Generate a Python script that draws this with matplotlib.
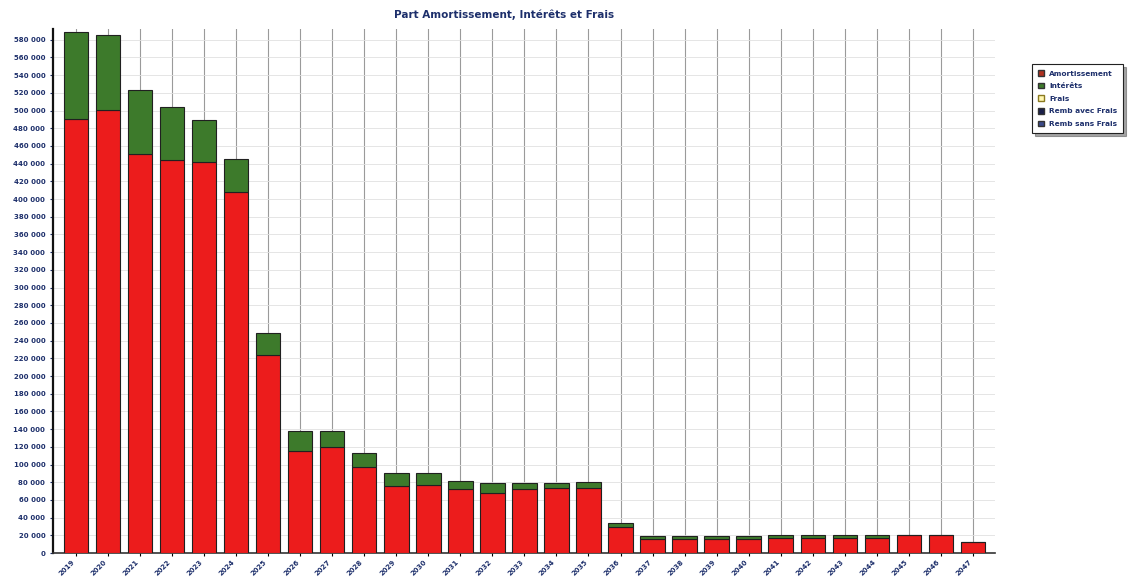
import matplotlib
matplotlib.use("Agg")
import matplotlib.pyplot as plt
from matplotlib.patches import Patch
from matplotlib.ticker import FuncFormatter, MultipleLocator

years = [str(y) for y in range(2019, 2048)]
amortissement = [490700, 500900, 450600, 444300, 441700, 407400, 223900, 115700, 119500,
                 97600, 76100, 76900, 72000, 68200, 72000, 73200, 73200, 29100,
                 16000, 16000, 16000, 16200, 17500, 17500, 17500, 17500, 19800, 19800, 11900]
interets = [98300, 84700, 72100, 59600, 47100, 37700, 25200, 22600, 18800,
            15100, 14700, 13900, 9800, 10600, 6800, 5600, 7400, 5200,
            3600, 3600, 3600, 3000, 3200, 3200, 3200, 3200, 900, 900, 0]

legend_labels = ["Amortissement", "Intérêts", "Frais", "Remb avec Frais", "Remb sans Frais"]

RED = "#ec1c1c"
GREEN = "#3d7a2b"
TXT = "#1d2f6b"

fig = plt.figure(figsize=(11.4, 5.88), dpi=100)
ax = fig.add_axes([0.0465, 0.0595, 0.8265, 0.891])

x = list(range(len(years)))
ax.bar(x, amortissement, width=0.76, color=RED, edgecolor="#202020", linewidth=0.8, zorder=3)
ax.bar(x, interets, width=0.76, bottom=amortissement, color=GREEN, edgecolor="#202020",
       linewidth=0.8, zorder=3)

ax.set_xlim(-0.72, len(years) - 1 + 0.7)
ax.set_ylim(0, 592000)
ax.yaxis.set_major_locator(MultipleLocator(20000))
ax.yaxis.set_major_formatter(FuncFormatter(lambda v, p: f"{int(v):,}".replace(",", " ")))
ax.set_xticks(x)
ax.set_xticklabels(years, rotation=45, ha="right", fontsize=5, color=TXT)
ax.tick_params(axis="y", labelsize=5, colors=TXT, length=2)
ax.tick_params(axis="x", length=2, pad=2)
for t in ax.get_yticklabels():
    t.set_fontweight("bold")
for t in ax.get_xticklabels():
    t.set_fontweight("bold")

ax.grid(axis="x", color="#9a9a9a", linewidth=0.8, zorder=0)
ax.grid(axis="y", color="#e0e0e0", linewidth=0.6, zorder=0)
ax.set_axisbelow(True)
for s in ["top", "right"]:
    ax.spines[s].set_visible(False)
ax.spines["left"].set_color("#111111")
ax.spines["left"].set_linewidth(1.6)
ax.spines["bottom"].set_color("#333333")
ax.spines["bottom"].set_linewidth(1.2)

fig.text(0.442, 0.975, "Part Amortissement, Intérêts et Frais", ha="center", va="center",
         fontsize=7.5, fontweight="bold", color=TXT)

handles = [
    Patch(facecolor="#b0301e", edgecolor="#333333"),
    Patch(facecolor=GREEN, edgecolor="#333333"),
    Patch(facecolor="#fff6b0", edgecolor="#8a7a20"),
    Patch(facecolor="#1a1f4a", edgecolor="#333333"),
    Patch(facecolor="#3b4a8a", edgecolor="#333333"),
]
leg = fig.legend(handles, legend_labels, loc="upper left", bbox_to_anchor=(0.902, 0.897),
                 fontsize=5.3, frameon=True, fancybox=False, shadow=True,
                 handlelength=0.8, handleheight=0.8, handletextpad=0.7,
                 labelspacing=0.85, borderpad=0.8)
leg.get_frame().set_edgecolor("#222222")
leg.get_frame().set_linewidth(0.8)
for t in leg.get_texts():
    t.set_color(TXT)
    t.set_fontweight("bold")

fig.savefig("out.png", dpi=100)
